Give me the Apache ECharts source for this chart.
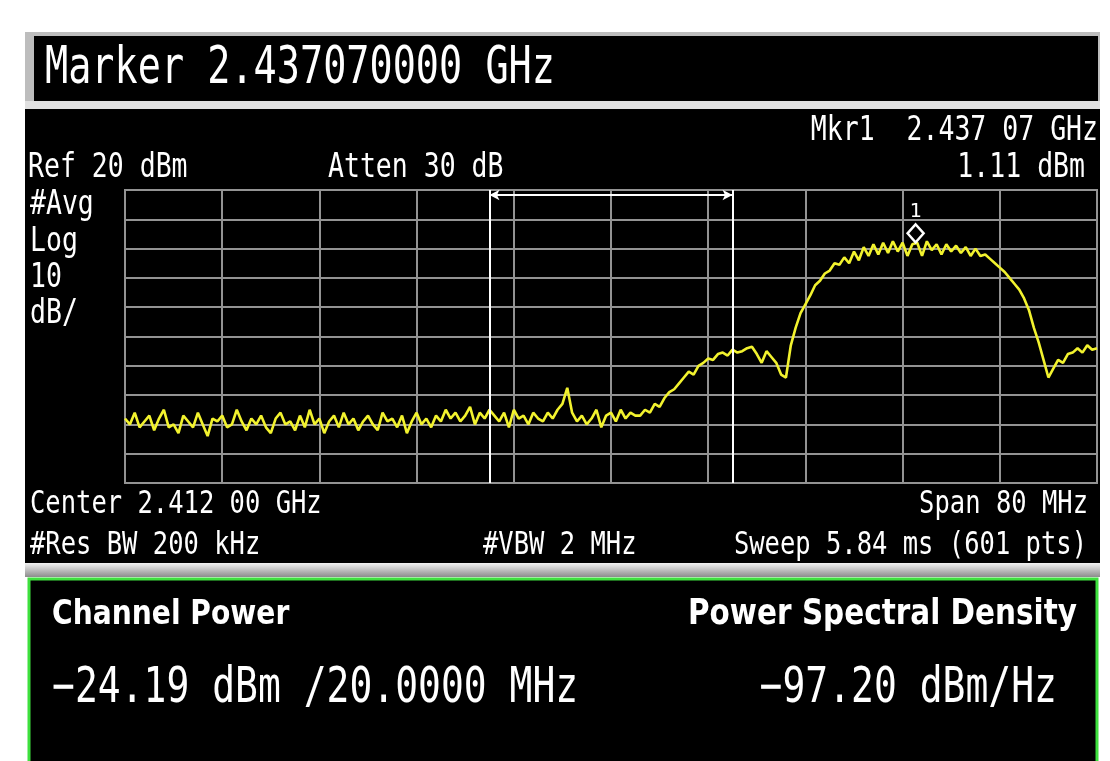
<!DOCTYPE html>
<html>
<head>
<meta charset="utf-8">
<script src="https://cdn.jsdelivr.net/npm/echarts@6/dist/echarts.min.js"></script>
<style>
html,body{margin:0;padding:0;background:#fff;}
#chart{width:1110px;height:761px;}
</style>
</head>
<body>
<div id="chart"></div>
<script>
// ---- Instrument settings ----
const centerGHz = 2.412;
const spanMHz = 80;
const refLevelDbm = 20;
const dbPerDiv = 10;
const xTicksMHz = [-40, -32, -24, -16, -8, 0, 8, 16, 24, 32, 40];
const channelEdgesMHz = [-10, 10];
const markerOffsetMHz = 25.07;   // 2.43707 GHz - 2.412 GHz
const markerDbm = 1.11;
const sweepStartMHz = -40;
const sweepStepMHz = 0.4;

// ---- Trace (dBm), one value per sweep point ----
const traceDbm = [
  -58, -60, -56, -61, -59, -57, -62, -58, -55, -61,
  -60, -63, -57, -59, -61, -56, -60, -64, -58, -59,
  -57, -61, -60, -55, -59, -62, -58, -60, -57, -61,
  -63, -58, -56, -60, -59, -62, -57, -61, -55, -60,
  -58, -63, -59, -57, -61, -56, -60, -58, -62, -59,
  -57, -60, -62, -56, -59, -58, -61, -57, -63, -59,
  -56, -60, -58, -61, -57, -59,
  -55, -58, -56, -59, -57, -54, -60, -56, -58, -55,
  -57, -59, -56, -61, -55, -58, -57, -60, -56, -58,
  -59, -56, -58, -55, -53, -47.5, -56, -59, -57, -60,
  -58, -55, -61, -57, -56, -59, -55, -58, -56, -57,
  -57, -55, -56, -53, -54, -51, -49, -48, -46, -44,
  -42, -43, -40, -39, -37.5, -38, -36, -35.5, -36.5, -34.5,
  -35.5, -35, -34, -33.5, -36, -39, -35, -37, -39, -43, -44, -33,
  -27, -22, -19, -16, -12.5, -11, -8.5, -7.5, -5, -5.5,
  -3, -5, -1, -4, 0.5, -2.5, 1.5, -2, 2, -1.5,
  2.5, -1, 2, -2.5, 1.5, 2, -2.5, 2.5, -0.5, 1.5,
  -2, 1.5, -1, 1, -1.5, 0.5, -2.5, 0, -2.5, -2,
  -3.5, -5, -6.5, -8, -10, -12, -14, -17, -21, -27,
  -32, -38, -44, -41, -38, -39, -36, -35.5, -34, -35.5, -33, -34.5, -34
];

// ---- Screen texts ----
const headerText = 'Marker 2.437070000 GHz';
const mkrFreqText = 'Mkr1  2.437 07 GHz';
const mkrLevelText = '1.11 dBm';
const refText = 'Ref 20 dBm';
const attenText = 'Atten 30 dB';
const scaleTexts = ['#Avg', 'Log', '10', 'dB/'];
const centerText = 'Center 2.412 00 GHz';
const spanText = 'Span 80 MHz';
const rbwText = '#Res BW 200 kHz';
const vbwText = '#VBW 2 MHz';
const sweepText = 'Sweep 5.84 ms (601 pts)';
const chPowerTitle = 'Channel Power';
const psdTitle = 'Power Spectral Density';
const chPowerValue = '\u221224.19 dBm /20.0000 MHz';
const psdValue = '\u221297.20 dBm/Hz';

const traceData = traceDbm.map((v, i) => [sweepStartMHz + i * sweepStepMHz, v]);

const MONO = '"DejaVu Sans Mono", "Liberation Mono", monospace';
const SANS = '"DejaVu Sans", sans-serif';
function txt(text, x, y, size, align, sy, family, weight, sx) {
  return {
    type: 'text', x: x, y: y, scaleY: sy || 1, scaleX: sx || 1, z: 100,
    style: {
      text: text, x: 0, y: 0, fill: '#ffffff',
      font: (weight || 'normal') + ' ' + size + 'px ' + (family || MONO),
      textAlign: align, textVerticalAlign: 'middle'
    }
  };
}

const graphics = [
  // main black panel
  { type: 'rect', z: -10, shape: { x: 25, y: 32, width: 1075, height: 531 }, style: { fill: '#000' } },
  // header frame
  { type: 'rect', z: -9, shape: { x: 25, y: 32, width: 1075, height: 77 }, style: { fill: '#bdbdbd' } },
  { type: 'rect', z: -9, shape: { x: 25, y: 101, width: 1075, height: 8 }, style: { fill: '#e0e0e0' } },
  { type: 'rect', z: -8, shape: { x: 34, y: 36, width: 1064, height: 65 }, style: { fill: '#000' } },
  // separator bar
  { type: 'rect', z: -9, shape: { x: 25, y: 563, width: 1075, height: 14 },
    style: { fill: { type: 'linear', x: 0, y: 0, x2: 0, y2: 1,
      colorStops: [{ offset: 0, color: '#f2f2f2' }, { offset: 1, color: '#8c8c8c' }] } } },
  // results box with green frame
  { type: 'rect', z: -9, shape: { x: 29, y: 579, width: 1068, height: 200 },
    style: { fill: '#000', stroke: '#3ee03e', lineWidth: 3 } },

  txt(headerText, 45, 70, 38.5, 'left', 1.32),
  txt(mkrFreqText, 1098, 131, 26.5, 'right', 1.27),
  txt(mkrLevelText, 1085, 168, 26.5, 'right', 1.27),
  txt(refText, 28, 168, 26.5, 'left', 1.27),
  txt(attenText, 328, 168, 26.5, 'left', 1.27),
  txt(scaleTexts[0], 30, 205, 26.5, 'left', 1.27),
  txt(scaleTexts[1], 30, 242, 26.5, 'left', 1.27),
  txt(scaleTexts[2], 30, 278, 26.5, 'left', 1.27),
  txt(scaleTexts[3], 30, 314, 26.5, 'left', 1.27),
  txt(centerText, 30, 505, 25.5, 'left', 1.27),
  txt(spanText, 1088, 505, 25.5, 'right', 1.27),
  txt(rbwText, 30, 546, 25.5, 'left', 1.27),
  txt(vbwText, 483, 546, 25.5, 'left', 1.27),
  txt(sweepText, 1087, 546, 25.5, 'right', 1.27),
  txt(chPowerTitle, 52, 615, 32, 'left', 1.08, SANS, '600', 0.88),
  txt(psdTitle, 1077, 615, 33.5, 'right', 1.08, SANS, '600', 0.88),
  txt(chPowerValue, 52, 689, 38, 'left', 1.3),
  txt(psdValue, 1057, 689, 38, 'right', 1.3)
];

const chart = echarts.init(document.getElementById('chart'), null, { renderer: 'canvas' });
const gridColor = '#939393';
chart.setOption({
  backgroundColor: '#ffffff',
  animation: false,
  grid: { left: 125, top: 190, width: 972, height: 293, show: true,
          borderColor: gridColor, borderWidth: 2, backgroundColor: '#000' },
  xAxis: {
    type: 'value', min: xTicksMHz[0], max: xTicksMHz[xTicksMHz.length - 1],
    interval: spanMHz / 10,
    axisLine: { show: false }, axisTick: { show: false }, axisLabel: { show: false },
    splitLine: { show: true, lineStyle: { color: gridColor, width: 2 } }
  },
  yAxis: {
    type: 'value', min: refLevelDbm - 10 * dbPerDiv, max: refLevelDbm, interval: dbPerDiv,
    axisLine: { show: false }, axisTick: { show: false }, axisLabel: { show: false },
    splitLine: { show: true, lineStyle: { color: gridColor, width: 2 } }
  },
  graphic: graphics,
  series: [
    {
      type: 'line', data: [], silent: true, z: 3,
      markLine: {
        silent: true, animation: false,
        symbol: ['none', 'none'],
        label: { show: false },
        lineStyle: { color: '#ffffff', width: 2, type: 'solid' },
        data: [
          { xAxis: channelEdgesMHz[0] },
          { xAxis: channelEdgesMHz[1] },
          [
            { coord: [channelEdgesMHz[0], refLevelDbm - 1.7], symbol: 'arrow', symbolSize: [8, 10] },
            { coord: [channelEdgesMHz[1], refLevelDbm - 1.7], symbol: 'arrow', symbolSize: [8, 10] }
          ]
        ]
      }
    },
    {
      type: 'line', data: traceData, showSymbol: false, symbol: 'none', z: 4,
      lineStyle: { color: '#f2f22e', width: 2.6 },
      markPoint: {
        silent: true, animation: false,
        symbol: 'diamond', symbolSize: [16, 18], symbolOffset: [0, -12],
        itemStyle: { color: '#000', borderColor: '#fff', borderWidth: 2.5 },
        label: { show: true, position: 'top', distance: 1, color: '#fff',
                 fontFamily: MONO, fontSize: 20, formatter: '1' },
        data: [{ coord: [markerOffsetMHz, markerDbm] }]
      }
    }
  ]
});
</script>
</body>
</html>
